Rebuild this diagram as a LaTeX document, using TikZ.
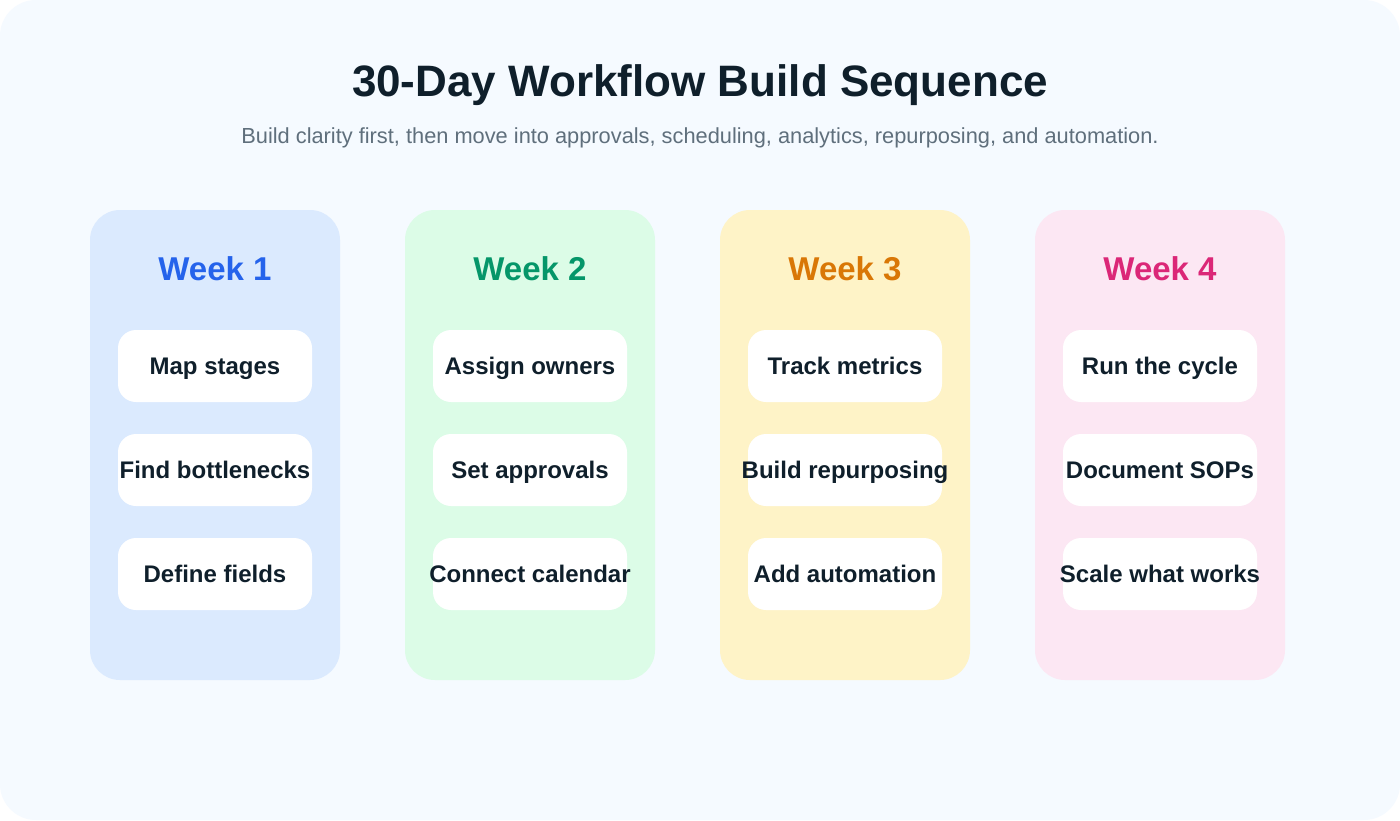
\documentclass[tikz,border=0pt]{standalone}
\usepackage{fontspec}
\setmainfont{Liberation Sans}
\definecolor{bgc}{HTML}{F5FAFF}
\definecolor{ink}{HTML}{0F1F2B}
\definecolor{subc}{HTML}{5F6F7C}
\definecolor{c1}{HTML}{DBEAFE}\definecolor{t1}{HTML}{2563EB}
\definecolor{c2}{HTML}{DCFCE7}\definecolor{t2}{HTML}{059669}
\definecolor{c3}{HTML}{FEF3C7}\definecolor{t3}{HTML}{D97706}
\definecolor{c4}{HTML}{FCE7F3}\definecolor{t4}{HTML}{DB2777}
\begin{document}
\begin{tikzpicture}[x=1pt,y=-1pt,
  colbox/.style={rounded corners=30pt},
  task/.style={fill=white,rounded corners=18pt,minimum width=194pt,minimum height=72pt,inner sep=0pt},
  tasktext/.style={anchor=base,inner sep=0pt,font=\fontsize{24}{28}\selectfont\bfseries,text=ink},
  weekt/.style={anchor=base,inner sep=0pt,font=\fontsize{33}{38}\selectfont\bfseries}]
\useasboundingbox (0,0) rectangle (1400,820);
\fill[white] (0,0) rectangle (1400,820);
\fill[bgc,rounded corners=36pt] (0,0) rectangle (1400,820);
\node[anchor=base,inner sep=0pt,font=\fontsize{44}{50}\selectfont\bfseries,text=ink] (title) at (700,96) {30-Day Workflow Build Sequence};
\node[anchor=base,inner sep=0pt,font=\fontsize{21.8}{26}\selectfont,text=subc] (sub) at (700,143) {Build clarity first, then move into approvals, scheduling, analytics, repurposing, and automation.};
\foreach \i/\x/\wk/\a/\b/\c in {1/90/Week 1/Map stages/Find bottlenecks/Define fields,
  2/405/Week 2/Assign owners/Set approvals/Connect calendar,
  3/720/Week 3/Track metrics/Build repurposing/Add automation,
  4/1035/Week 4/Run the cycle/Document SOPs/Scale what works}{
  \fill[c\i,colbox] (\x,210) rectangle ++(250,470);
  \node[weekt,text=t\i] (w\i) at (\x+125,280) {\wk};
  \node[task] (a\i) at (\x+125,366) {};
  \node[task] (b\i) at (\x+125,470) {};
  \node[task] (c\i) at (\x+125,574) {};
  \node[tasktext] (ta\i) at ([yshift=-8.5pt]a\i.center) {\a};
  \node[tasktext] (tb\i) at ([yshift=-8.5pt]b\i.center) {\b};
  \node[tasktext] (tc\i) at ([yshift=-8.5pt]c\i.center) {\c};
}
\end{tikzpicture}
\end{document}
